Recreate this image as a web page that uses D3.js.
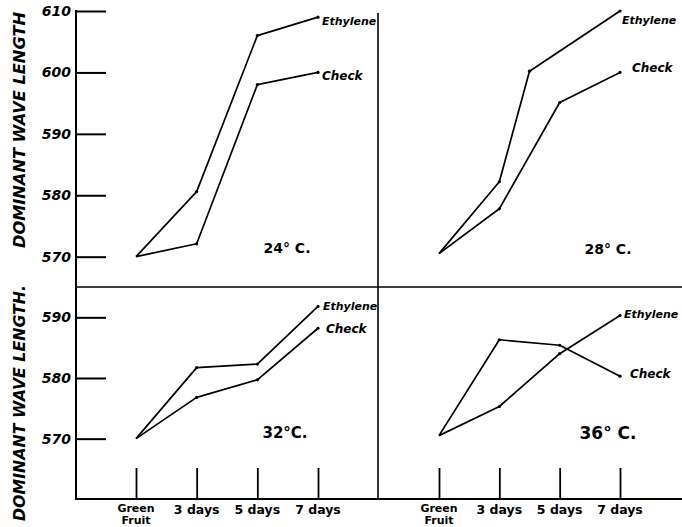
<!DOCTYPE html>
<html>
<head>
<meta charset="utf-8">
<script src="https://cdn.jsdelivr.net/npm/d3@7"></script>
<style>
  html, body { margin: 0; padding: 0; background: #fff; }
  svg { display: block; }
  .lbl { font-family: "DejaVu Sans", sans-serif; font-style: italic; font-weight: bold; }
</style>
</head>
<body>
<div id="chart"></div>
<script>
// x categories (index 0..3)
var categories = [["Green", "Fruit"], ["3 days"], ["5 days"], ["7 days"]];
var temps = ["24° C.", "28° C.", "32°C.", "36° C."];

// top panels
var topTicks = [570, 580, 590, 600, 610];
var eth24 = [570, 580.6, 606, 609];
var chk24 = [570, 572.1, 598, 600];
var eth28 = [570.5, 582.2, 600.2, 610];
var eth28x = [0, 1, 1.5, 3];   // middle point drawn nearer 4 days in the original
var chk28 = [570.5, 577.8, 595.1, 600];

// bottom panels
var botTicks = [570, 580, 590];
var eth32 = [570, 581.7, 582.3, 591.8];
var chk32 = [570, 576.8, 579.7, 588.2];
var eth36 = [570.5, 575.3, 584, 590.3];
var chk36 = [570.5, 586.3, 585.4, 580.3];

var App = {};

(function() {
  var W = 682, H = 527;
  var axisX = 76, midX = 378, divY = 287, baseY = 499, topY = 11;

  var svg = d3.select("#chart").append("svg")
    .attr("width", W).attr("height", H);

  var yTop = d3.scaleLinear().domain([565, 610]).range([divY + 0.4, topY]);
  var yBot = d3.scaleLinear().domain([560.05, 595]).range([baseY, divY]);
  var xLeft = d3.scaleLinear().domain([0, 3]).range([136, 318]);
  var xRight = d3.scaleLinear().domain([0, 3]).range([439, 620]);

  var panels = [
    { x: xLeft, y: yTop, eth: eth24, chk: chk24, ethX: [0,1,2,3], temp: temps[0],
      tp: [287, 248, 14], ethL: [322, 21], chkL: [322, 76] },
    { x: xRight, y: yTop, eth: eth28, chk: chk28, ethX: eth28x, temp: temps[1],
      tp: [608, 249, 14], ethL: [622, 20], chkL: [632, 68] },
    { x: xLeft, y: yBot, eth: eth32, chk: chk32, ethX: [0,1,2,3], temp: temps[2],
      tp: [285, 433, 15], ethL: [323, 306], chkL: [326, 329] },
    { x: xRight, y: yBot, eth: eth36, chk: chk36, ethX: [0,1,2,3], temp: temps[3],
      tp: [608, 434, 17], ethL: [624, 314], chkL: [630, 374] }
  ];

  // frame lines
  var frame = svg.append("g").attr("stroke", "#000").attr("fill", "none");
  frame.append("line").attr("x1", axisX).attr("x2", axisX).attr("y1", topY - 1).attr("y2", baseY + 1).attr("stroke-width", 2);
  frame.append("line").attr("x1", axisX).attr("x2", W).attr("y1", baseY).attr("y2", baseY).attr("stroke-width", 2);
  frame.append("line").attr("x1", axisX).attr("x2", W).attr("y1", divY).attr("y2", divY).attr("stroke-width", 1.6);
  frame.append("line").attr("x1", midX).attr("x2", midX).attr("y1", 13).attr("y2", baseY).attr("stroke-width", 1.6);

  // y axes (ticks pointing into plot)
  function yAxis(scale, ticks) {
    var g = svg.append("g").attr("transform", "translate(" + axisX + ",0)")
      .call(d3.axisRight(scale).tickValues(ticks).tickSize(30).tickFormat(""));
    g.select(".domain").remove();
    g.selectAll(".tick line").attr("stroke", "#000").attr("stroke-width", 2);
    svg.append("g").selectAll("text").data(ticks).enter().append("text")
      .attr("class", "lbl")
      .attr("x", axisX - 5).attr("y", function(d) { return scale(d) + 5; })
      .attr("text-anchor", "end").attr("font-size", 14)
      .text(function(d) { return d; });
  }
  yAxis(yTop, topTicks);
  yAxis(yBot, botTicks);

  // x axes
  [xLeft, xRight].forEach(function(xs) {
    var g = svg.append("g").attr("transform", "translate(0," + baseY + ")")
      .call(d3.axisTop(xs).tickValues([0, 1, 2, 3]).tickSize(31).tickFormat(""));
    g.select(".domain").remove();
    g.selectAll(".tick line").attr("stroke", "#000").attr("stroke-width", 1.8);
    var t = svg.append("g").selectAll("text").data(categories).enter().append("text")
      .attr("font-family", "DejaVu Sans, sans-serif").attr("font-weight", "bold")
      .attr("font-size", function(d) { return d.length > 1 ? 11 : 12.5; })
      .attr("text-anchor", "middle")
      .attr("x", function(d, i) { return xs(i); })
      .attr("y", function(d) { return d.length > 1 ? 512 : 514; });
    t.selectAll("tspan").data(function(d) { return d; }).enter().append("tspan")
      .attr("x", function() { return d3.select(this.parentNode).attr("x"); })
      .attr("dy", function(d, i) { return i ? 12 : 0; })
      .text(function(d) { return d; });
  });

  // axis titles
  [[130, "DOMINANT WAVE LENGTH"], [403, "DOMINANT WAVE LENGTH."]].forEach(function(t) {
    svg.append("text").attr("class", "lbl")
      .attr("transform", "translate(25," + t[0] + ") rotate(-90)")
      .attr("text-anchor", "middle").attr("font-size", 16)
      .attr("textLength", 236).attr("lengthAdjust", "spacingAndGlyphs")
      .style("font-weight", "600")
      .text(t[1]);
  });

  // series lines
  panels.forEach(function(p) {
    function draw(vals, xsIdx) {
      var pts = vals.map(function(v, i) { return [p.x(xsIdx[i]), p.y(v)]; });
      svg.append("path").datum(pts)
        .attr("d", d3.line())
        .attr("fill", "none").attr("stroke", "#000").attr("stroke-width", 1.7)
        .attr("stroke-linejoin", "round");
      svg.append("g").selectAll("circle").data(pts.slice(1)).enter().append("circle")
        .attr("cx", function(d) { return d[0]; }).attr("cy", function(d) { return d[1]; })
        .attr("r", 1.6).attr("fill", "#000");
    }
    draw(p.eth, p.ethX);
    draw(p.chk, [0, 1, 2, 3]);

    svg.append("text").attr("class", "lbl").attr("font-size", 11)
      .attr("x", p.ethL[0]).attr("y", p.ethL[1] + 4).text("Ethylene");
    svg.append("text").attr("class", "lbl").attr("font-size", 12)
      .attr("x", p.chkL[0]).attr("y", p.chkL[1] + 4).text("Check");
    svg.append("text").attr("font-family", "DejaVu Sans, sans-serif").attr("font-weight", "bold")
      .attr("font-size", p.tp[2]).attr("text-anchor", "middle")
      .attr("x", p.tp[0]).attr("y", p.tp[1] + 5).text(p.temp);
  });
})();
</script>
</body>
</html>
